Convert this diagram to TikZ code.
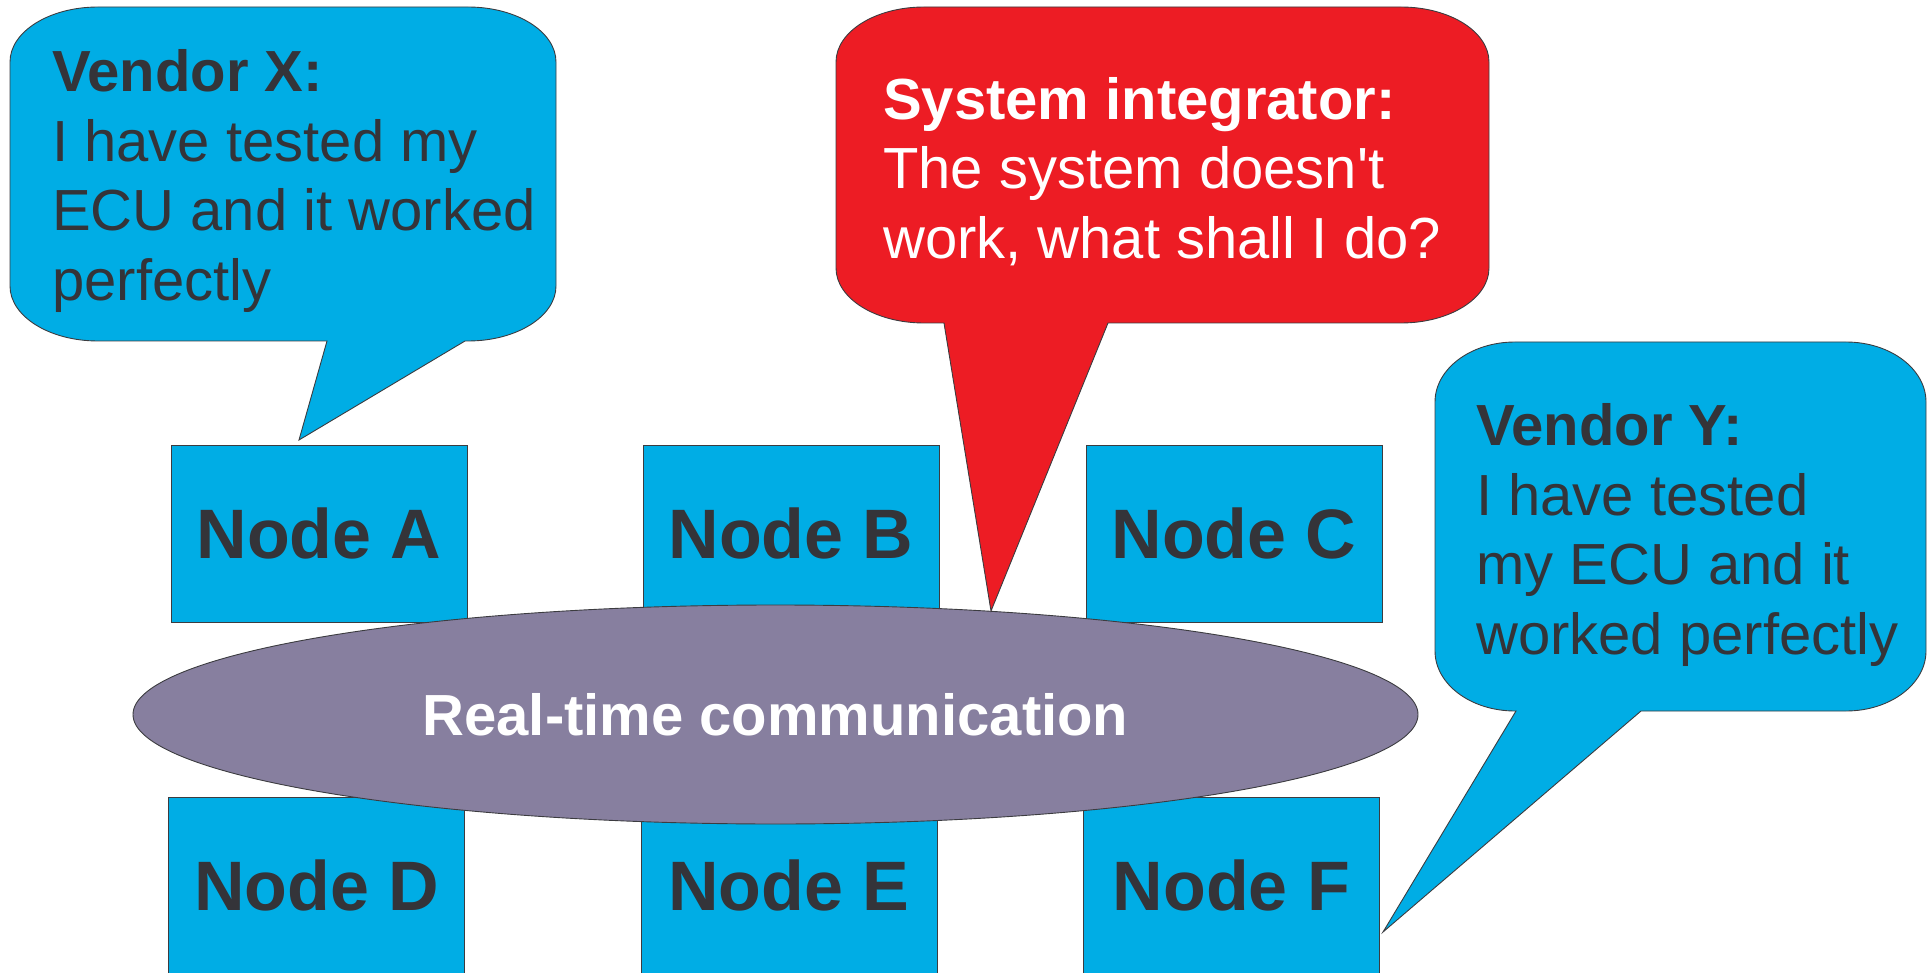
\documentclass[tikz,border=0pt]{standalone}
\usepackage{fontspec}
\setmainfont{Liberation Sans}[Ligatures=TeXOff]
\usetikzlibrary{shapes.geometric}

\definecolor{ecublue}{RGB}{0,173,229}
\definecolor{alertred}{RGB}{237,28,36}
\definecolor{buspurple}{RGB}{135,127,159}
\definecolor{inkgray}{RGB}{52,52,57}
\definecolor{edgegray}{RGB}{60,60,64}

\tikzset{
  ecubox/.style={draw=edgegray, line width=0.9pt, fill=ecublue, text=inkgray,
    minimum width=296pt, minimum height=177pt, inner sep=0pt,
    font=\fontsize{70pt}{84pt}\selectfont\bfseries},
  busshape/.style={ellipse, draw=edgegray, line width=0.9pt, fill=buspurple, text=white,
    minimum width=1285pt, minimum height=219pt, inner sep=0pt,
    font=\fontsize{58pt}{69.5pt}\selectfont\bfseries},
  bubbleblue/.style={draw=edgegray, line width=0.9pt, fill=ecublue},
  bubblered/.style={draw=edgegray, line width=0.9pt, fill=alertred},
  speech/.style={anchor=north west, inner sep=0pt, align=left,
    font=\fontsize{58pt}{69.5pt}\selectfont},
}

\begin{document}
\begin{tikzpicture}[x=1pt, y=-1pt]
\useasboundingbox (0,0) rectangle (1928,973);

% ECUs above the bus
\node[ecubox] (A) at (319,533.5) {Node A};
\node[ecubox] (B) at (791,533.5) {Node B};
\node[ecubox] (C) at (1234,533.5) {Node C};

% ECUs below the bus
\node[ecubox] (D) at (316.5,885.5) {Node D};
\node[ecubox] (E) at (789,885.5) {Node E};
\node[ecubox] (F) at (1231.5,885.5) {Node F};

% the shared bus
\node[busshape] (bus) at (775.5,714.5) {Real-time communication};

% vendor X speech bubble, pointing at node A
\draw[bubbleblue] (98,7) -- (468,7)
  arc[start angle=270, end angle=360, x radius=88, y radius=55] -- (556,286)
  arc[start angle=0, end angle=90, x radius=88, y radius=55]
  -- (465,341) -- (299,440) -- (327,341) -- (98,341)
  arc[start angle=90, end angle=180, x radius=88, y radius=55] -- (10,62)
  arc[start angle=180, end angle=270, x radius=88, y radius=55] -- cycle;
\node[speech, text=inkgray] (vx) at (52,49.5)
  {\textbf{Vendor X:}\\I have tested my\\ECU and it worked\\perfectly};

% system integrator speech bubble, pointing at the bus
\draw[bubblered] (924,7) -- (1401,7)
  arc[start angle=270, end angle=360, x radius=88, y radius=55] -- (1489,268)
  arc[start angle=0, end angle=90, x radius=88, y radius=55]
  -- (1108,323) -- (991,611) -- (944,323) -- (924,323)
  arc[start angle=90, end angle=180, x radius=88, y radius=55] -- (836,62)
  arc[start angle=180, end angle=270, x radius=88, y radius=55] -- cycle;
\node[speech, text=white] (si) at (883,77)
  {\textbf{System integrator:}\\The system doesn't\\work, what shall I do?};

% vendor Y speech bubble, pointing at node F
\draw[bubbleblue] (1515,342) -- (1846,342)
  arc[start angle=270, end angle=360, x radius=80, y radius=60] -- (1926,651)
  arc[start angle=0, end angle=90, x radius=80, y radius=60]
  -- (1641,711) -- (1383,932) -- (1516,711) -- (1515,711)
  arc[start angle=90, end angle=180, x radius=80, y radius=60] -- (1435,402)
  arc[start angle=180, end angle=270, x radius=80, y radius=60] -- cycle;
\node[speech, text=inkgray] (vy) at (1476,403.5)
  {\textbf{Vendor Y:}\\I have tested\\my ECU and it\\worked perfectly};
\end{tikzpicture}
\end{document}
